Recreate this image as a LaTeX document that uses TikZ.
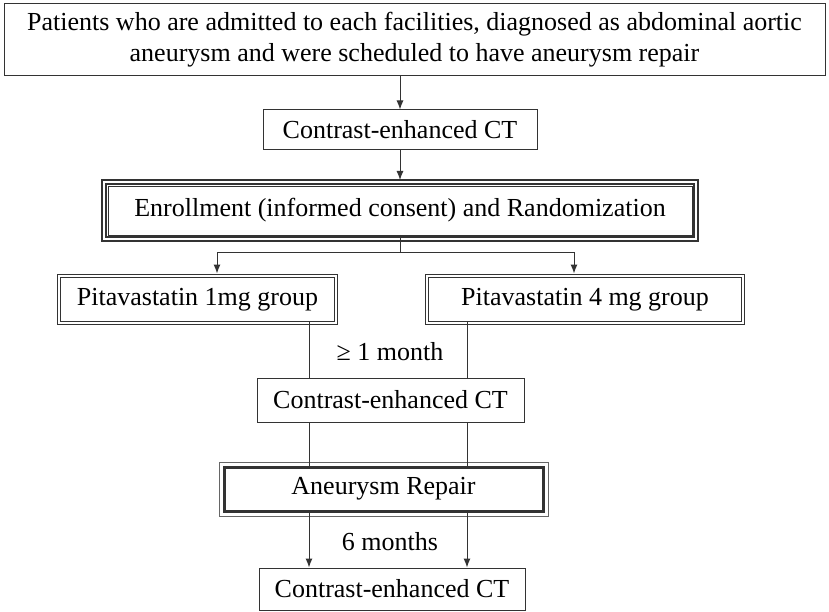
\documentclass[tikz,border=0pt]{standalone}
\usepackage{fontspec}
\setmainfont{Liberation Serif}
\usetikzlibrary{arrows.meta}
\tikzset{
  box/.style={draw=black!80, line width=1pt, inner sep=0pt, font=\fontsize{26}{31}\selectfont},
  dbox/.style={box, double, double distance=2pt},
  tbox/.style={box, line width=2pt},
  rbox/.style={box, line width=3pt},
  link/.style={draw=black!80, line width=1pt}
}
\begin{document}
\begin{tikzpicture}[x=1pt, y=-1pt, >={Latex[length=9pt,width=7pt]}]
\useasboundingbox (0,0) rectangle (829,612);
\node (top) at (414.5,40) [box, minimum width=821, minimum height=72, align=center] {Patients who are admitted to each facilities, diagnosed as abdominal aortic\\aneurysm and were scheduled to have aneurysm repair};
\node (ct1) at (400,130) [box, minimum width=274, minimum height=40] {Contrast-enhanced CT};
\node (enr) at (400,210.5) [tbox, minimum width=588, minimum height=53] {Enrollment (informed consent) and Randomization};
\node (p1) at (197.5,299.5) [dbox, minimum width=277, minimum height=47] {Pitavastatin 1mg group};
\node (p4) at (585,299.5) [dbox, minimum width=316, minimum height=47] {Pitavastatin 4 mg group};
\node (ct2) at (390.5,400) [box, minimum width=267, minimum height=44] {Contrast-enhanced CT};
\node (rep) at (383.5,489) [rbox, minimum width=319, minimum height=44] {Aneurysm Repair};
\node (ct3) at (392,589) [box, minimum width=266, minimum height=42] {Contrast-enhanced CT};
\node (gap1) at (390,352) [font=\fontsize{26}{31}\selectfont] {≥ 1 month};
\node (gap2) at (390,542) [font=\fontsize{26}{31}\selectfont] {6 months};

% extra frames
\draw [black!80, line width=1.2pt] ([shift={(-3,3)}]enr.south west) rectangle ([shift={(3,-3)}]enr.north east);
\draw [black!80, line width=0.8pt] ([shift={(3,-3)}]enr.south west) rectangle ([shift={(-3,3)}]enr.north east);
\draw [black!60, line width=1pt] ([shift={(-3.5,3.5)}]rep.south west) rectangle ([shift={(3.5,-3.5)}]rep.north east);

\coordinate (split) at (400,252);
\coordinate (sl) at (217,252);
\coordinate (sr) at (574,252);
\coordinate (lane1) at (309,0);
\coordinate (lane2) at (467,0);

\draw [link, ->] (top.south -| ct1.north) -- (ct1.north);
\draw [link, ->, shorten >=3pt] (ct1.south) -- (ct1.south |- enr.north);
\draw [link] ([yshift=3pt]enr.south -| split) -- (split);
\draw [link] (sl) -- (sr);
\draw [link, ->, shorten >=2pt] (sl) -- (sl |- p1.north);
\draw [link, ->, shorten >=2pt] (sr) -- (sr |- p4.north);
\draw [link] ([yshift=2pt]p1.south -| lane1) -- (ct2.north -| lane1);
\draw [link] ([yshift=2pt]p4.south -| lane2) -- (ct2.north -| lane2);
\draw [link] (ct2.south -| lane1) -- ([yshift=-3.5pt]rep.north -| lane1);
\draw [link] (ct2.south -| lane2) -- ([yshift=-3.5pt]rep.north -| lane2);
\draw [link, ->] ([yshift=1.5pt]rep.south -| lane1) -- (ct3.north -| lane1);
\draw [link, ->] ([yshift=1.5pt]rep.south -| lane2) -- (ct3.north -| lane2);
\end{tikzpicture}
\end{document}
